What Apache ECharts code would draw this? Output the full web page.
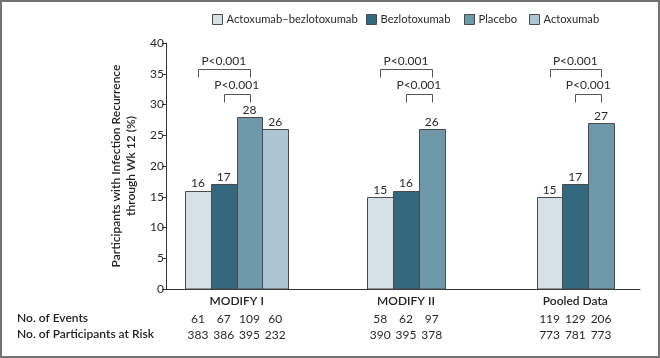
<!DOCTYPE html>
<html><head><meta charset="utf-8">
<script src="https://cdn.jsdelivr.net/npm/echarts@6/dist/echarts.min.js"></script>
<style>html,body{margin:0;padding:0;background:#fff}#c{width:660px;height:358px}</style>
</head><body><div id="c"></div>
<script>
const categories = ['MODIFY I', 'MODIFY II', 'Pooled Data'];
const seriesNames = ['Actoxumab\u2013bezlotoxumab', 'Bezlotoxumab', 'Placebo', 'Actoxumab'];
const actoBezlo = [16, 15, 15];
const bezlo = [17, 16, 17];
const placebo = [28, 26, 27];
const acto = [26, null, null];
const eventsActoBezlo = [61, 58, 119];
const eventsBezlo = [67, 62, 129];
const eventsPlacebo = [109, 97, 206];
const eventsActo = [60, null, null];
const riskActoBezlo = [383, 390, 773];
const riskBezlo = [386, 395, 781];
const riskPlacebo = [395, 378, 773];
const riskActo = [232, null, null];
const pLabels = ['P<0.001', 'P<0.001'];
const yTicks = [0, 5, 10, 15, 20, 25, 30, 35, 40];

const values = [actoBezlo, bezlo, placebo, acto];
const events = [eventsActoBezlo, eventsBezlo, eventsPlacebo, eventsActo];
const risks = [riskActoBezlo, riskBezlo, riskPlacebo, riskActo];
const colors = ['#d6e0e7', '#33687f', '#6f98ab', '#adc5d2'];
const legendLeft = [212, 366, 464, 529];
const FONT = 'Lato';
const groupSize = categories.map((c, i) => values.filter(v => v[i] != null).length);
const BW = 0.152;

function barCenter(api, ci, k) {
  const n = groupSize[ci];
  const band = api.size([1, 0])[0];
  const bw = band * BW;
  const c = api.coord([ci, 0])[0];
  return { cx: c + (k - n / 2 + 0.5) * bw, bw: bw };
}

const chart = echarts.init(document.getElementById('c'), null, { renderer: 'canvas' });

const barSeries = seriesNames.map((name, k) => ({
  name: name,
  type: 'custom',
  xAxisIndex: 0, yAxisIndex: 0,
  itemStyle: { color: colors[k], borderColor: '#4a4a4a', borderWidth: 1 },
  data: categories.map((c, i) => values[k][i] == null ? null : [i, values[k][i], events[k][i], risks[k][i]]).filter(d => d),
  renderItem: function (params, api) {
    const ci = api.value(0), v = api.value(1);
    const b = barCenter(api, ci, k);
    const top = api.coord([ci, v])[1];
    const base = api.coord([ci, 0])[1];
    const x0 = Math.round(b.cx - b.bw / 2) + 0.5;
    const x1 = Math.round(b.cx + b.bw / 2) + 0.5;
    const y0 = Math.round(top) + 0.5;
    return {
      type: 'group',
      children: [
        { type: 'rect', shape: { x: x0, y: y0, width: x1 - x0, height: base - y0 },
          style: { fill: colors[k], stroke: '#4a4a4a', lineWidth: 1 } },
        { type: 'text', x: b.cx, y: top - 1,
          style: { text: String(v), textAlign: 'center', textVerticalAlign: 'bottom', fill: '#2a2a2a', font: '12px ' + FONT } },
        { type: 'text', x: b.cx, y: 319,
          style: { text: String(api.value(2)), textAlign: 'center', textVerticalAlign: 'middle', fill: '#2a2a2a', font: '12px ' + FONT } },
        { type: 'text', x: b.cx, y: 335,
          style: { text: String(api.value(3)), textAlign: 'center', textVerticalAlign: 'middle', fill: '#2a2a2a', font: '12px ' + FONT } }
      ]
    };
  }
}));

const bracketSeries = {
  name: 'brackets',
  type: 'custom',
  xAxisIndex: 0, yAxisIndex: 0,
  silent: true,
  data: categories.map((c, i) => [i, 0]),
  renderItem: function (params, api) {
    const ci = api.value(0);
    const c0 = barCenter(api, ci, 0).cx, c1 = barCenter(api, ci, 1).cx, c2 = barCenter(api, ci, 2).cx;
    const y = v => Math.round(api.coord([ci, v])[1]) + 0.5;
    const mk = (xa, xb, yt, yb) => ({ type: 'polyline',
      shape: { points: [[Math.round(xa) + 0.5, yb], [Math.round(xa) + 0.5, yt], [Math.round(xb) + 0.5, yt], [Math.round(xb) + 0.5, yb]] },
      style: { stroke: '#555', lineWidth: 1, fill: null } });
    return {
      type: 'group',
      children: [
        mk(c0, c2, y(35.8), y(34.4)),
        mk(c1, c2, y(31.7), y(30.4)),
        { type: 'text', x: (c0 + c2) / 2, y: api.coord([ci, 37.1])[1],
          style: { text: pLabels[0], textAlign: 'center', textVerticalAlign: 'middle', fill: '#2a2a2a', font: '12px ' + FONT } },
        { type: 'text', x: (c1 + c2) / 2, y: api.coord([ci, 33.1])[1],
          style: { text: pLabels[1], textAlign: 'center', textVerticalAlign: 'middle', fill: '#2a2a2a', font: '12px ' + FONT } }
      ]
    };
  }
};

chart.setOption({
  animation: false,
  backgroundColor: '#fff',
  textStyle: { fontFamily: FONT },
  legend: seriesNames.map((n, k) => ({
    data: [n],
    left: legendLeft[k], top: 14,
    padding: 0,
    icon: 'rect', itemWidth: 10, itemHeight: 10,
    itemStyle: { borderColor: '#4a4a4a', borderWidth: 1 },
    textStyle: { fontSize: 11.2, color: '#2a2a2a', fontFamily: FONT, padding: [0, 0, 0, -1] }
  })),
  grid: [
    { left: 152, right: -2, top: 43, bottom: 69 },
    { left: 166, right: 20, top: 43, bottom: 69 }
  ],
  xAxis: [
    { type: 'category', gridIndex: 0, data: categories,
      axisLine: { show: false }, axisTick: { show: false },
      axisLabel: { margin: 6, fontSize: 12, fontWeight: 600, color: '#222', fontFamily: FONT } },
    { type: 'value', gridIndex: 1, min: 0, max: 1,
      axisLine: { show: true, lineStyle: { color: '#333', width: 1 } },
      axisTick: { show: false }, axisLabel: { show: false }, splitLine: { show: false } }
  ],
  yAxis: [
    { type: 'value', gridIndex: 0, min: 0, max: 40, interval: 5, show: false },
    { type: 'value', gridIndex: 1, min: yTicks[0], max: yTicks[yTicks.length - 1], interval: yTicks[1] - yTicks[0],
      name: 'Participants with Infection Recurrence\nthrough Wk 12 (%)',
      nameLocation: 'middle', nameGap: 27,
      nameTextStyle: { fontSize: 12, fontWeight: 600, color: '#222', lineHeight: 15, fontFamily: FONT },
      axisLine: { show: true, lineStyle: { color: '#333', width: 1 } },
      axisTick: { show: true, length: 4, lineStyle: { color: '#333' } },
      axisLabel: { margin: 2, fontSize: 12, color: '#2a2a2a', fontFamily: FONT },
      splitLine: { show: false } }
  ],
  graphic: [
    { type: 'rect', shape: { x: 1, y: 1, width: 658, height: 356 }, style: { fill: null, stroke: '#747474', lineWidth: 2 }, silent: true },
    { type: 'text', left: 17, top: 312, style: { text: 'No. of Events', font: '600 12px ' + FONT, fill: '#222' } },
    { type: 'text', left: 17, top: 328, style: { text: 'No. of Participants at Risk', font: '600 12px ' + FONT, fill: '#222' } }
  ],
  series: barSeries.concat([bracketSeries])
});
</script></body></html>
